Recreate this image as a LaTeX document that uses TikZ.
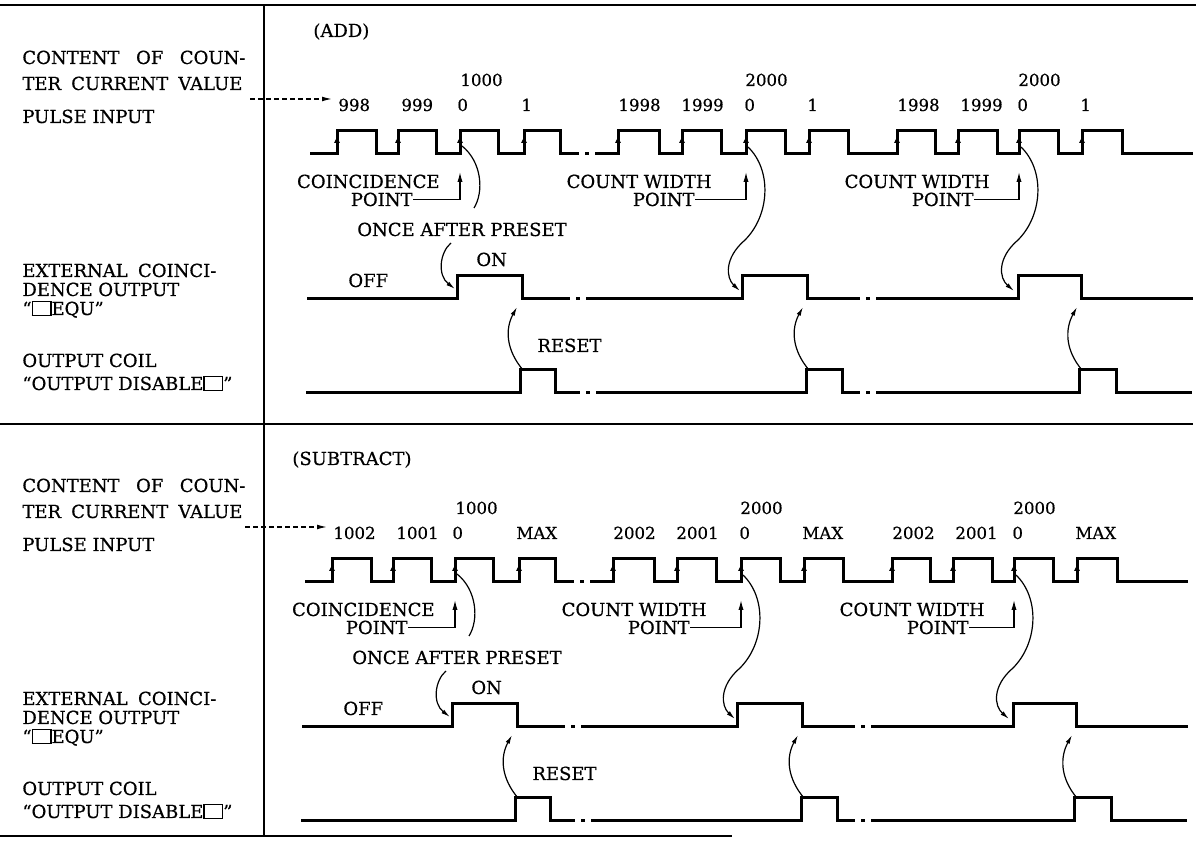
\documentclass[tikz,border=0pt]{standalone}
\usepackage{fontspec}
\setmainfont{DejaVu Serif}[FakeBold=0.6]
\usetikzlibrary{arrows.meta, positioning}
\newcommand{\hollowsq}{{\setlength{\fboxsep}{0pt}\setlength{\fboxrule}{0.7pt}\fbox{\rule{0pt}{0.7em}\hspace{0.95em}}}}
\tikzset{
  frame/.style={line width=1pt},
  wave/.style={line width=1.5pt},
  link/.style={line width=0.6pt},
  lbl/.style={anchor=base west, inner sep=0pt},
  txt/.style={anchor=base east, inner sep=0pt},
  num/.style={anchor=base west, inner sep=0pt, font=\fontsize{8.3}{9}\selectfont},
  swoop/.style={link, -{Latex[length=4.5pt, width=2.2pt]}},
  edgetip/.style={line width=0.5pt, -{Latex[length=3.4pt, width=3pt]}},
  lead/.style={line width=0.6pt, -{Latex[length=5pt, width=2.6pt]}},
  feed/.style={line width=0.6pt, dash pattern=on 2.5pt off 1.5pt, -{Latex[length=5pt, width=2.4pt]}, shorten >=3pt},
}

\begin{document}
\begin{tikzpicture}[x=0.5pt, y=-0.5pt, font=\fontsize{9}{10}\selectfont]
  \useasboundingbox (0,0) rectangle (1201,854);
  % frame lines
  \coordinate (tl) at (0,5);   \coordinate (tr) at (1196,5);
  \coordinate (ml) at (0,424); \coordinate (mr) at (1193,424);
  \coordinate (bl) at (0,836); \coordinate (br) at (732,836);
  \coordinate (vt) at (264,5); \coordinate (vb) at (264,836);
  \draw[frame] (tl) -- (tr); \draw[frame] (ml) -- (mr); \draw[frame] (bl) -- (br);
  \draw[frame] (vt) -- (vb);
  \foreach \pn/\sx/\sy/\ttl/\tx/\vA/\vB/\vC/\vD/\vE/\vF in
      {a/0/0/ADD/313/998/999/1/1998/1999/1,
       s/-5/428/SUBTRACT/297/1002/1001/MAX/2002/2001/MAX}{
  \begin{scope}[shift={(0,\sy)}]
    % signal names
    \node[lbl] (cnt1\pn) at (22,64) {\makebox[111.5pt][s]{CONTENT OF COUN-}};
    \node[lbl] (cnt2\pn) at (22,90) {\makebox[110pt][s]{TER CURRENT VALUE}};
    \node[lbl] (pls\pn) at (22,123) {PULSE INPUT};
    \node[lbl] (ext1\pn) at (22,277) {\makebox[97pt][s]{EXTERNAL COINCI-}};
    \node[lbl] (ext2\pn) at (22,296) {DENCE OUTPUT};
    \node[lbl] (ext3\pn) at (22,315) {``\hollowsq EQU''};
    \node[lbl] (coil1\pn) at (22,367) {OUTPUT COIL};
    \node[lbl] (coil2\pn) at (22,390) {``OUTPUT DISABLE\hollowsq''};
  \begin{scope}[shift={(\sx,0)}]
    \node[lbl] (ttl\pn) at (\tx,37) {(\ttl)};
    % counter values
    \coordinate (src\pn) at (250,99);
    \node[num] (n1\pn) at (338,111) {\vA};
    \node[num] (n2\pn) at (401,111) {\vB};
    \node[num] (n3\pn) at (457,111) {0};
    \node[num] (n4\pn) at (521,111) {\vC};
    \node[num] (n5\pn) at (618,111) {\vD};
    \node[num] (n6\pn) at (681,111) {\vE};
    \node[num] (n7\pn) at (744,111) {0};
    \node[num] (n8\pn) at (807,111) {\vF};
    \node[num] (n9\pn) at (897,111) {\vD};
    \node[num] (n10\pn) at (960,111) {\vE};
    \node[num] (n11\pn) at (1017,111) {0};
    \node[num] (n12\pn) at (1080,111) {\vF};
    \node[num] (k1\pn) at (460,86) {1000};
    \node[num] (k2\pn) at (745,86) {2000};
    \node[num] (k3\pn) at (1018,86) {2000};
    \draw[feed] (src\pn) -- (src\pn -| n1\pn.west);
    % pulse input
    \draw[wave] (310,154)
      foreach \ru/\fa in {337/376,398/436,460/498,524/560}{ -- (\ru,154) -- (\ru,131) -- (\fa,131) -- (\fa,154)}
      -- (579,154) (585,154) -- (589,154) (595,154)
      foreach \ru/\fa in {618/659,682/721,746/785,809/848,897/935,958/997,1019/1058,1082/1122}{ -- (\ru,154) -- (\ru,131) -- (\fa,131) -- (\fa,154)}
      -- (1193,154);
    \foreach \ru in {337,398,460,524,618,682,746,809,897,958,1019,1082}
      \draw[edgetip] (\ru,154) -- (\ru,136);
    % match points
    \node[txt] (cw1\pn) at (440,188) {COINCIDENCE};
    \node[txt] (pt1\pn) at (413,206) {POINT};
    \node[txt] (cw2\pn) at (712,188) {COUNT WIDTH};
    \node[txt] (pt2\pn) at (695,206) {POINT};
    \node[txt] (cw3\pn) at (990,188) {COUNT WIDTH};
    \node[txt] (pt3\pn) at (974,206) {POINT};
    \coordinate (m1\pn) at (460,172); \coordinate (m2\pn) at (746,172); \coordinate (m3\pn) at (1019,172);
    \draw[lead] (pt1\pn.east) -| (m1\pn);
    \draw[lead] (pt2\pn.east) -| (m2\pn);
    \draw[lead] (pt3\pn.east) -| (m3\pn);
    % preset and count width triggers
    \node[anchor=base, inner sep=0pt] (once\pn) at (462,236) {ONCE AFTER PRESET};
    \coordinate (z1\pn) at (462,146); \coordinate (u1\pn) at (474,208);
    \coordinate (l1\pn) at (451,243); \coordinate (e1\pn) at (455,289);
    \draw[link] (z1\pn) .. controls (482,162) and (484,192) .. (u1\pn);
    \draw[swoop] (l1\pn) .. controls (440,252) and (437,275) .. (e1\pn);
    \coordinate (z2\pn) at (748,147); \coordinate (e2\pn) at (740,291);
    \draw[swoop] (z2\pn) .. controls (772,170) and (770,215) .. (745,240) .. controls (724,258) and (726,278) .. (e2\pn);
    \coordinate (z3\pn) at (1021,147); \coordinate (e3\pn) at (1014,291);
    \draw[swoop] (z3\pn) .. controls (1045,170) and (1043,215) .. (1018,240) .. controls (997,258) and (999,278) .. (e3\pn);
    % external coincidence output
    \node[lbl] (off\pn) at (348,287) {OFF};
    \node[lbl] (on\pn) at (476,266) {ON};
    \draw[wave] (307,299) -- (457,299) -- (457,276) -- (522,276) -- (522,299) -- (570,299)
      (576,299) -- (580,299) (586,299) -- (742,299) -- (742,276) -- (807,276) -- (807,299) -- (860,299)
      (866,299) -- (870,299) (876,299) -- (1018,299) -- (1018,276) -- (1081,276) -- (1081,299) -- (1193,299);
    % output coil
    \node[lbl] (rst\pn) at (537,352) {RESET};
    \draw[wave] (306,393) -- (520,393) -- (520,370) -- (555,370) -- (555,393) -- (580,393)
      (586,393) -- (590,393) (596,393) -- (806,393) -- (806,370) -- (842,370) -- (842,393) -- (860,393)
      (866,393) -- (870,393) (876,393) -- (1079,393) -- (1079,370) -- (1116,370) -- (1116,393) -- (1192,393);
    \foreach \i/\cx/\qx in {1/523/517, 2/809/803, 3/1082/1077}{
      \coordinate (c\i\pn) at (\cx,370); \coordinate (q\i\pn) at (\qx,307);
      \draw[swoop] (c\i\pn) .. controls +(-17,-20) and +(-12,22) .. (q\i\pn);}
  \end{scope}
  \end{scope}
  }
\end{tikzpicture}
\end{document}
